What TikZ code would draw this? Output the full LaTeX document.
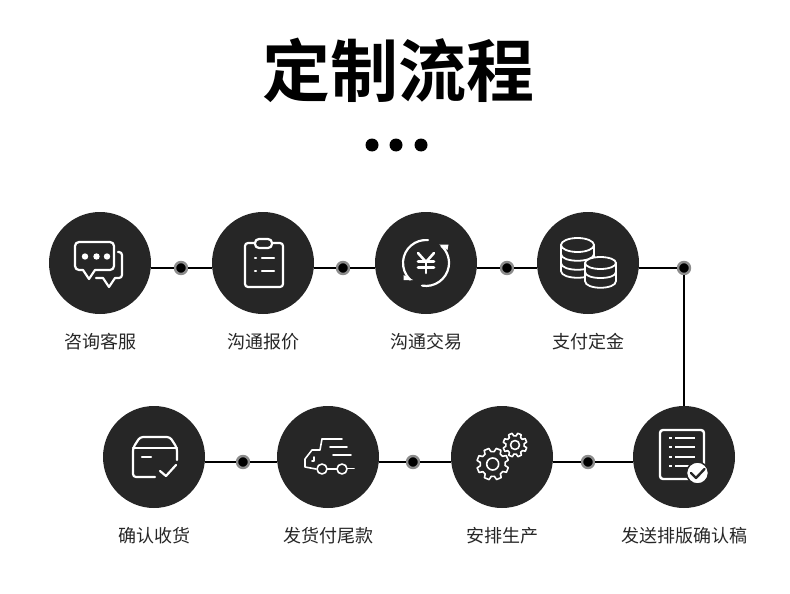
\documentclass[tikz,border=0pt]{standalone}
\usepackage{fontspec}
\setmainfont[BoldFont={Noto Sans CJK SC Bold}]{Noto Sans CJK SC}
\usepackage{xcolor}
\usetikzlibrary{positioning}
\definecolor{stepcolor}{RGB}{38,38,38}

\begin{document}
\begin{tikzpicture}[
    x=1pt, y=-1pt,
    stepnode/.style={circle, fill=stepcolor, minimum size=102pt, inner sep=0pt},
    joint/.style={circle, fill=black, draw=black!45, line width=2.4pt, minimum size=12pt, inner sep=0pt},
    topdot/.style={circle, fill=black, minimum size=13pt, inner sep=0pt},
    link/.style={line width=1.8pt, black},
    caption/.style={font=\fontsize{18}{20}\selectfont, text=black!85, inner sep=0pt},
    icon/.style={draw=white, line width=2.2pt, line cap=round, line join=round},
    thin icon/.style={draw=white, line width=1.6pt, line cap=round, line join=round}
]
\useasboundingbox (0,0) rectangle (790,594);

% Title
\node[font=\fontsize{68}{72}\bfseries\selectfont, text=black, inner sep=0pt] (title) at (398,70) {定制流程};
\node[topdot] (tdot1) at (372,145) {};
\node[topdot] (tdot2) at (396,145) {};
\node[topdot] (tdot3) at (421,145) {};

% Row 1
\node[stepnode] (consult) at (100,263) {};
\node[stepnode] (quote) at (263,263) {};
\node[stepnode] (trade) at (426,263) {};
\node[stepnode] (deposit) at (588,263) {};

% Row 2
\node[stepnode] (receive) at (154,457) {};
\node[stepnode] (balance) at (328,457) {};
\node[stepnode] (produce) at (502,457) {};
\node[stepnode] (proof) at (684,457) {};

% Joints
\node[joint] (j1) at (181,268) {};
\node[joint] (j2) at (343,268) {};
\node[joint] (j3) at (507,268) {};
\node[joint] (j4) at (684,268) {};
\node[joint] (j5) at (243,462) {};
\node[joint] (j6) at (413,462) {};
\node[joint] (j7) at (588,462) {};

% Links
\draw[link] (consult.east |- j1) -- (j1);
\draw[link] (j1) -- (quote.west |- j1);
\draw[link] (quote.east |- j2) -- (j2);
\draw[link] (j2) -- (trade.west |- j2);
\draw[link] (trade.east |- j3) -- (j3);
\draw[link] (j3) -- (deposit.west |- j3);
\draw[link] (deposit.east |- j4) -- (j4);
\draw[link] (j4) -- (proof.north);
\draw[link] (receive.east |- j5) -- (j5);
\draw[link] (j5) -- (balance.west |- j5);
\draw[link] (balance.east |- j6) -- (j6);
\draw[link] (j6) -- (produce.west |- j6);
\draw[link] (produce.east |- j7) -- (j7);
\draw[link] (j7) -- (proof.west |- j7);

% Labels
\node[caption, below=19pt of consult] (lconsult) {咨询客服};
\node[caption, below=19pt of quote] (lquote) {沟通报价};
\node[caption, below=19pt of trade] (ltrade) {沟通交易};
\node[caption, below=19pt of deposit] (ldeposit) {支付定金};
\node[caption, below=19pt of receive] (lreceive) {确认收货};
\node[caption, below=19pt of balance] (lbalance) {发货付尾款};
\node[caption, below=19pt of produce] (lproduce) {安排生产};
\node[caption, below=19pt of proof] (lproof) {发送排版确认稿};

% Icon: chat
\draw[icon, rounded corners=4pt] (83,270) -- (75,270) -- (75,242) -- (114,242) -- (114,270) -- (95,270);
\draw[icon] (83,270) -- (89,279) -- (95,270);
\draw[icon, rounded corners=3pt] (118,252) -- (122,252) -- (122,278) -- (115,278);
\draw[icon] (115,278) -- (109,287) -- (103,278) -- (96,278);
\foreach \x in {85,96.5,107} \fill[white] (\x,256.5) circle (3.2);

% Icon: clipboard
\draw[icon, rounded corners=3pt] (255,243) -- (245,243) -- (245,287) -- (283,287) -- (283,243) -- (272,243);
\draw[icon, rounded corners=4pt] (255,239) rectangle (272,248);
\foreach \y in {258,271} {
  \draw[icon] (255,\y) -- (256,\y);
  \draw[icon] (262,\y) -- (274,\y);
}

% Icon: yen
\draw[icon] (428,240.1) arc[start angle=85, end angle=226, radius=23pt];
\draw[icon] (422,285.6) arc[start angle=260, end angle=408, radius=23pt];
\fill[white] (403.5,275) -- (403.5,280) -- (413,280) -- cycle;
\fill[white] (439,244.5) -- (448.5,244.5) -- (447.5,250) -- cycle;
\draw[icon, line width=2.6pt] (418,253) -- (426,262) -- (434,253);
\draw[icon, line width=2.6pt] (426,262) -- (426,273);
\draw[icon, line width=2.6pt] (418,261.5) -- (434,261.5);
\draw[icon, line width=2.6pt] (418,267.5) -- (434,267.5);

% Icon: coins
\draw[thin icon, line width=1.8pt] (561,245) -- (561,271) .. controls (561,280) and (594,280) .. (594,271) -- (594,245);
\draw[thin icon, line width=1.8pt] (561,254) .. controls (561,263) and (594,263) .. (594,254);
\draw[thin icon, line width=1.8pt] (561,263) .. controls (561,272) and (594,272) .. (594,263);
\draw[thin icon, line width=1.8pt] (577.5,245) ellipse (16.5 and 7);
\draw[thin icon, line width=1.8pt, fill=stepcolor] (585,263) -- (585,281) .. controls (585,290) and (616,290) .. (616,281) -- (616,263) -- cycle;
\draw[thin icon, line width=1.8pt] (585,272) .. controls (585,280) and (616,280) .. (616,272);
\draw[thin icon, line width=1.8pt, fill=stepcolor] (600.5,263) ellipse (15.5 and 6);

% Icon: box
\draw[icon, rounded corners=3pt] (155,477) -- (133,477) -- (133,448) -- (140,437) -- (170,437) -- (177,448) -- (177,460);
\draw[icon] (133,448) -- (177,448);
\draw[icon] (142,457) -- (151,457);
\draw[icon] (160,471) -- (166,476) -- (176,465);

% Icon: truck
\draw[thin icon] (322,439) -- (342,439);
\draw[thin icon] (322,439) -- (320,450) -- (312,450) -- (305,459) -- (305,467) -- (316,469);
\draw[thin icon] (330,447) -- (347,447);
\draw[thin icon] (333,455) -- (351,455);
\draw[thin icon] (312,461) -- (314,461) -- (314,457);
\draw[thin icon] (322,469) circle (5);
\draw[thin icon] (342,469) circle (5);
\draw[thin icon] (327,469) -- (337,469);
\draw[thin icon] (347,468.5) -- (354,468.5);

% Icon: gears
\foreach \cx/\cy/\outer/\inner/\hub in {492.7/464/16/12.5/6, 515/445/12/9.2/4.5} {
  \begin{scope}[shift={(\cx,\cy)}]
    \foreach \a in {22,67,...,337} {
      \draw[thin icon] (\a-15:\inner) -- (\a-9:\outer) -- (\a+9:\outer) -- (\a+15:\inner) -- (\a+30:\inner);
    }
    \draw[thin icon] (0,0) circle (\hub);
  \end{scope}
}

% Icon: proof
\draw[icon, line width=2.4pt, rounded corners=3pt] (660,430) rectangle (704,479);
\foreach \y in {438,447,457,466} {
  \draw[icon, line width=2.4pt, line cap=butt] (669,\y) -- (672,\y);
  \draw[icon, line width=2.4pt, line cap=butt] (675,\y) -- (695,\y);
}
\draw[stepcolor, line width=1.5pt, fill=white] (697.5,473) circle (11);
\draw[stepcolor, line width=2.4pt, line cap=round, line join=round] (691,473) -- (696,478) -- (704.5,469);

\end{tikzpicture}
\end{document}
